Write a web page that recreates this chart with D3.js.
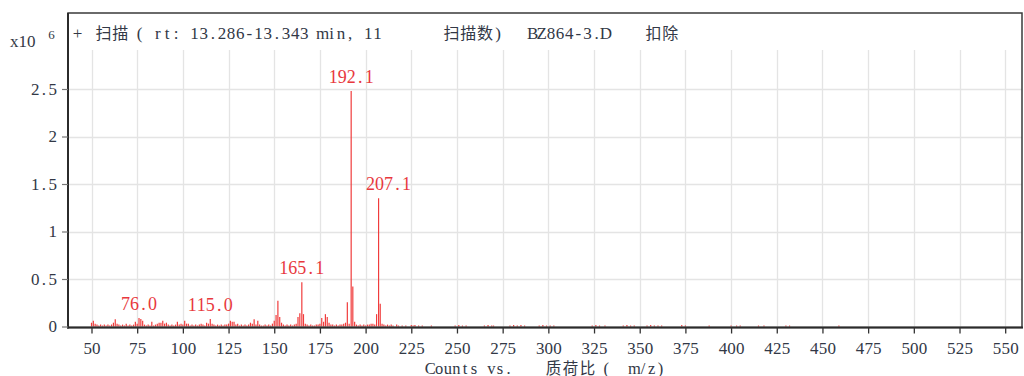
<!DOCTYPE html>
<html>
<head>
<meta charset="utf-8">
<script src="https://cdn.jsdelivr.net/npm/d3@7"></script>
<style>
  html, body { margin: 0; padding: 0; background: #fff; }
  svg { display: block; }
  text { font-family: "Liberation Serif", "Noto Sans CJK SC", serif; }
</style>
</head>
<body>
<svg id="chart" width="1024" height="376"></svg>
<script>
// Mass spectrum: m/z positions and abundances (counts x10^6)
const mzValues = [
  50, 51, 52, 53, 54, 55, 56, 57, 58, 59, 60, 61, 62, 63, 64, 65, 66, 67, 68, 69,
  70, 71, 72, 73, 74, 75, 76.0, 77, 78, 79, 80, 81, 82, 83, 84, 85, 86, 87, 88, 89,
  90, 91, 92, 93, 94, 95, 96, 97, 98, 99, 100, 101, 102, 103, 104, 105, 106, 107, 108, 109,
  110, 111, 112, 113, 114, 115.0, 116, 117, 118, 119, 120, 121, 122, 123, 124, 125, 126, 127, 128, 129,
  130, 131, 132, 133, 134, 135, 136, 137, 138, 139, 140, 141, 142, 143, 144, 145, 146, 147, 148, 149,
  150, 151, 152, 153, 154, 155, 156, 157, 158, 159, 160, 161, 162, 163, 164, 165.1, 166, 167, 168, 169,
  170, 171, 172, 173, 174, 175, 176, 177, 178, 179, 180, 181, 182, 183, 184, 185, 186, 187, 188, 189,
  190, 191, 192.1, 193, 194, 195, 196, 197, 198, 199, 200, 201, 202, 203, 204, 205, 206, 207.1, 208, 209,
  210, 211, 212, 213, 214, 215, 217, 218, 220, 222, 225, 226, 227, 229, 231, 236,
  249, 251, 253, 255, 265, 267, 269, 270, 279, 281, 283, 285, 287, 295, 297, 299, 301, 303,
  324, 326, 328, 331, 341, 343, 345, 347, 354, 356, 358, 360, 362, 373, 375, 388,
  400, 403, 405, 415, 418, 430, 432, 459
];
const intensities = [
  0.04, 0.06, 0.03, 0.02, 0.01, 0.02, 0.01, 0.02, 0.01, 0.02, 0.01, 0.02, 0.04, 0.076, 0.03, 0.02, 0.01, 0.02, 0.01, 0.03,
  0.01, 0.02, 0.01, 0.02, 0.05, 0.03, 0.09, 0.08, 0.06, 0.02, 0.01, 0.02, 0.01, 0.05, 0.01, 0.02, 0.03, 0.04, 0.04, 0.06,
  0.03, 0.04, 0.02, 0.01, 0.02, 0.01, 0.02, 0.05, 0.02, 0.03, 0.02, 0.06, 0.03, 0.03, 0.01, 0.02, 0.01, 0.02, 0.01, 0.02,
  0.03, 0.02, 0.01, 0.04, 0.03, 0.08, 0.03, 0.02, 0.01, 0.02, 0.01, 0.02, 0.01, 0.02, 0.02, 0.03, 0.06, 0.05, 0.05, 0.02,
  0.03, 0.01, 0.02, 0.01, 0.02, 0.01, 0.02, 0.04, 0.03, 0.076, 0.02, 0.06, 0.02, 0.01, 0.01, 0.02, 0.01, 0.02, 0.01, 0.03,
  0.06, 0.12, 0.27, 0.10, 0.04, 0.02, 0.01, 0.02, 0.01, 0.02, 0.01, 0.02, 0.03, 0.10, 0.14, 0.465, 0.13, 0.03, 0.02, 0.01,
  0.02, 0.01, 0.01, 0.02, 0.02, 0.03, 0.09, 0.05, 0.13, 0.10, 0.04, 0.02, 0.02, 0.01, 0.02, 0.01, 0.02, 0.02, 0.03, 0.04,
  0.255, 0.03, 2.48, 0.42, 0.05, 0.02, 0.01, 0.02, 0.01, 0.02, 0.01, 0.02, 0.02, 0.03, 0.03, 0.02, 0.13, 1.35, 0.24, 0.03,
  0.02, 0.01, 0.02, 0.01, 0.02, 0.01, 0.02, 0.01, 0.01, 0.01, 0.015, 0.01, 0.015, 0.01, 0.01, 0.01,
  0.01, 0.015, 0.01, 0.01, 0.01, 0.015, 0.01, 0.01, 0.01, 0.015, 0.01, 0.015, 0.01, 0.01, 0.015, 0.01, 0.01, 0.01,
  0.01, 0.015, 0.01, 0.01, 0.01, 0.015, 0.01, 0.01, 0.01, 0.015, 0.01, 0.01, 0.01, 0.015, 0.01, 0.01,
  0.01, 0.01, 0.01, 0.01, 0.01, 0.01, 0.01, 0.01
];
// Peaks annotated with their m/z
const labeledPeaks = [76.0, 115.0, 165.1, 192.1, 207.1];

// Axis ticks
const xTicks = [50, 75, 100, 125, 150, 175, 200, 225, 250, 275, 300, 325, 350, 375, 400, 425, 450, 475, 500, 525, 550];
const yTicks = [0, 0.5, 1, 1.5, 2, 2.5];
const yTickLabels = ["0", "0.5", "1", "1.5", "2", "2.5"];

// Title pieces
const titleParts = ["+", "扫描", "( rt: 13.286-13.343 min, 11", "扫描数)", "BZ864-3.D", "扣除"];
const xTitleParts = ["Counts vs.", "质荷比", "(", "m/z)"];

// Layout
const titleOffsets = [73, 95, 135, 443, 528, 645];
const xTitleOffsets = [426, 545, 602, 630];
const labelNudge = { 207.1: 10 };   // keep the 207.1 label clear of the 192.1 bar

const svg = d3.select("#chart");
const plotLeft = 68, plotRight = 1022, plotTop = 13, plotBottom = 326.5, gridTop = 50;

const x = d3.scaleLinear().domain([37.14, 559.2]).range([plotLeft, plotRight]);
const y = d3.scaleLinear().domain([0, 3.3]).range([plotBottom, plotTop]);

const textColor = "#323846";
const red = "#f03c3c";

// Fixed-pitch text: each half-width glyph gets one cell, each CJK glyph a double cell
function monoText(parent, str, o) {
  const chars = Array.from(str);
  const isWide = c => /[\u2E80-\u9FFF\uFF00-\uFFEF]/.test(c);
  const widths = chars.map(c => isWide(c) ? o.wide : o.cell);
  const total = d3.sum(widths);
  let cx = o.anchor === "middle" ? o.x - total / 2 : o.anchor === "end" ? o.x - total : o.x;
  const t = parent.append("text")
    .attr("y", o.y).attr("fill", o.fill).attr("font-size", o.size)
    .attr("text-anchor", "middle");
  chars.forEach((c, i) => {
    if (c !== " ") {
      const ts = t.append("tspan").attr("x", cx + widths[i] / 2).text(c);
      if (isWide(c)) ts.attr("font-size", o.wideSize || o.size).attr("font-family", "Noto Sans CJK SC");
    }
    cx += widths[i];
  });
  return t;
}

// Grid
svg.append("g").selectAll("line").data(xTicks).join("line")
  .attr("x1", d => Math.round(x(d)) + 0.5).attr("x2", d => Math.round(x(d)) + 0.5)
  .attr("y1", gridTop).attr("y2", plotBottom)
  .attr("stroke", "#e4e4e4").attr("stroke-width", 1.3);
svg.append("g").selectAll("line").data(yTicks.filter(d => d > 0)).join("line")
  .attr("x1", plotLeft).attr("x2", plotRight)
  .attr("y1", d => Math.round(y(d)) + 0.5).attr("y2", d => Math.round(y(d)) + 0.5)
  .attr("stroke", "#e4e4e4").attr("stroke-width", 1.3);

// Spectrum bars
const peaks = mzValues.map((m, i) => ({ mz: m, v: intensities[i] }));
svg.append("g").selectAll("line").data(peaks).join("line")
  .attr("x1", d => x(d.mz)).attr("x2", d => x(d.mz))
  .attr("y1", y(0)).attr("y2", d => y(d.v))
  .attr("stroke", red).attr("stroke-width", 1.2);

// Peak labels
const labelLayer = svg.append("g");
peaks.filter(d => labeledPeaks.includes(d.mz)).forEach(d => {
  monoText(labelLayer, d.mz.toFixed(1), {
    x: x(d.mz) + (labelNudge[d.mz] || 0), y: y(d.v) - 8,
    size: 18, cell: 9, wide: 18, anchor: "middle", fill: "#e8383d"
  });
});

// Frame
svg.append("rect").attr("x", plotLeft).attr("y", plotTop).attr("width", plotRight - plotLeft).attr("height", plotBottom + 1 - plotTop)
  .attr("fill", "none").attr("stroke", "#3a3a3a").attr("stroke-width", 1.5);
svg.append("line").attr("x1", plotLeft - 1).attr("x2", plotRight + 1).attr("y1", plotBottom + 1).attr("y2", plotBottom + 1)
  .attr("stroke", "#2b2b2b").attr("stroke-width", 2.2);
svg.append("line").attr("x1", plotLeft).attr("x2", plotLeft).attr("y1", plotTop).attr("y2", plotBottom + 2)
  .attr("stroke", "#2b2b2b").attr("stroke-width", 2);

// X axis
const xAxis = d3.axisBottom(x).tickValues(xTicks).tickSize(6).tickSizeOuter(0).tickFormat(d3.format("d"));
const gx = svg.append("g").attr("transform", `translate(0,${plotBottom + 1})`).call(xAxis);
gx.select(".domain").remove();
gx.selectAll(".tick line").attr("stroke", "#333").attr("stroke-width", 1.3);
gx.selectAll(".tick text").remove();
gx.selectAll(".tick").each(function (d) {
  monoText(d3.select(this), d3.format("d")(d), { x: 0, y: 26, size: 17, cell: 8.7, wide: 17, anchor: "middle", fill: textColor });
});

// Y axis
const yAxis = d3.axisLeft(y).tickValues(yTicks).tickSize(6).tickSizeOuter(0);
const gy = svg.append("g").attr("transform", `translate(${plotLeft},0)`).call(yAxis);
gy.select(".domain").remove();
gy.selectAll(".tick line").attr("stroke", "#777").attr("stroke-width", 1.2);
gy.selectAll(".tick text").remove();
gy.selectAll(".tick").each(function (d, i) {
  monoText(d3.select(this), yTickLabels[i], { x: -11, y: 5, size: 17, cell: 8.7, wide: 17, anchor: "end", fill: textColor });
});

// Y unit
monoText(svg, "x10", { x: 10, y: 47, size: 17, cell: 8.5, wide: 17, fill: textColor });
monoText(svg, "6", { x: 48, y: 39, size: 13, cell: 7, wide: 13, fill: textColor });

// Title
titleParts.forEach((s, i) => {
  monoText(svg, s, { x: titleOffsets[i], y: 39, size: 17, cell: 9.15, wide: 16.8, wideSize: 16, fill: textColor });
});

// X title
xTitleParts.forEach((s, i) => {
  monoText(svg, s, { x: xTitleOffsets[i], y: 373.5, size: 16.5, cell: 8.7, wide: 17, wideSize: 15.5, fill: textColor });
});
</script>
</body>
</html>
